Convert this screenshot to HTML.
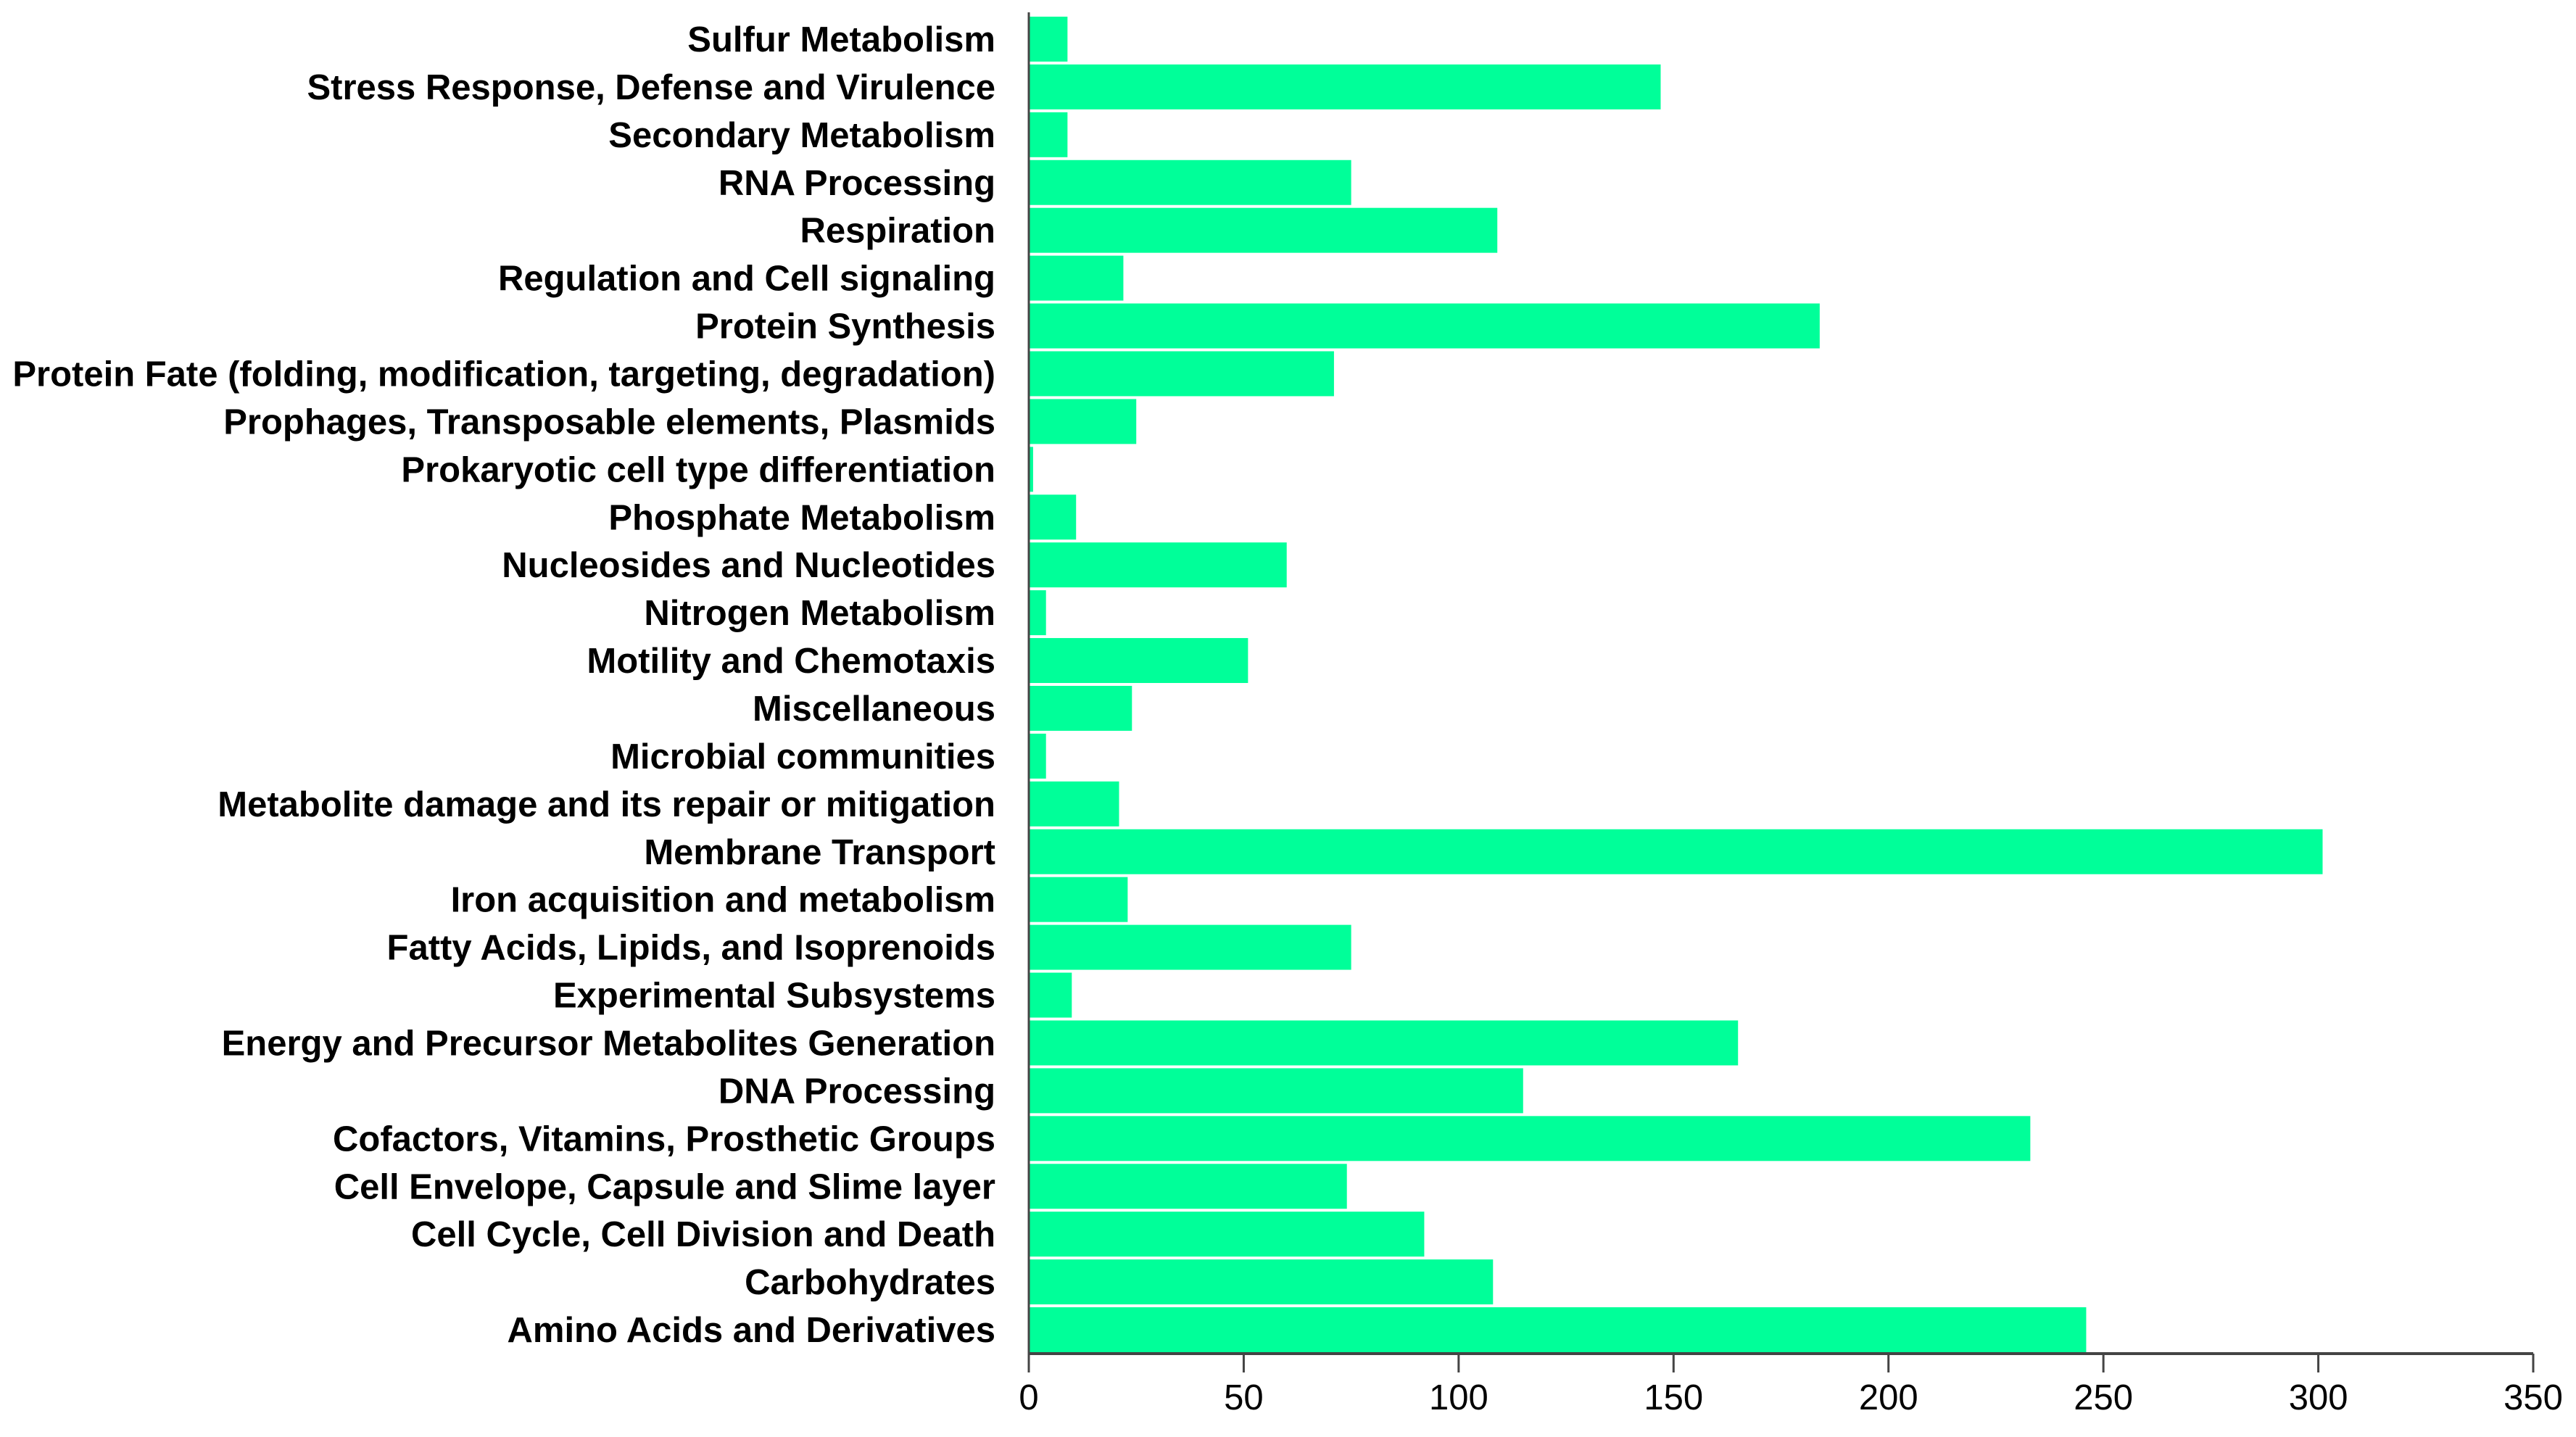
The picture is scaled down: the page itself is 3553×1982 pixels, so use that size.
<!DOCTYPE html>
<html><head><meta charset="utf-8"><style>
html,body{margin:0;padding:0;background:#fff;}
svg{display:block;font-family:"Liberation Sans",Arial,sans-serif;}
</style></head><body>
<svg id="chart" width="3553" height="1982" viewBox="0 0 3553 1982" xmlns="http://www.w3.org/2000/svg"></svg>
<script>
const categories = ["Sulfur Metabolism","Stress Response, Defense and Virulence","Secondary Metabolism","RNA Processing","Respiration","Regulation and Cell signaling","Protein Synthesis","Protein Fate (folding, modification, targeting, degradation)","Prophages, Transposable elements, Plasmids","Prokaryotic cell type differentiation","Phosphate Metabolism","Nucleosides and Nucleotides","Nitrogen Metabolism","Motility and Chemotaxis","Miscellaneous","Microbial communities","Metabolite damage and its repair or mitigation","Membrane Transport","Iron acquisition and metabolism","Fatty Acids, Lipids, and Isoprenoids","Experimental Subsystems","Energy and Precursor Metabolites Generation","DNA Processing","Cofactors, Vitamins, Prosthetic Groups","Cell Envelope, Capsule and Slime layer","Cell Cycle, Cell Division and Death","Carbohydrates","Amino Acids and Derivatives"];
const values = [9,147,9,75,109,22,184,71,25,1,11,60,4,51,24,4,21,301,23,75,10,165,115,233,74,92,108,246];
const tickValues = [0,50,100,150,200,250,300,350];
const tickLabels = ["0","50","100","150","200","250","300","350"];

const NS="http://www.w3.org/2000/svg";
const svg=document.getElementById('chart');
const x0=1419, x1=3494, xMax=350;
const yTop=21, yBot=1867;
const band=(yBot-yTop)/categories.length;
const xs=v=>x0+(v/xMax)*(x1-x0);
const yb=i=>yTop+i*band;
function mk(tag,attrs){const e=document.createElementNS(NS,tag);for(const k in attrs)e.setAttribute(k,attrs[k]);svg.appendChild(e);return e;}

categories.forEach((c,i)=>{
  const r=mk('rect',{x:x0,y:yb(i)+band*0.03,width:xs(values[i])-x0,height:band*0.94,fill:'#00ff99'});
  
  
  const t=mk('text',{x:1373,y:yb(i)+band/2+17,'text-anchor':'end','font-size':49,'font-weight':'bold',fill:'#000'});
  t.textContent=c;
  
  
});
const ya=mk('line',{x1:x0,y1:yTop-4,x2:x0,y2:yBot,stroke:'#444','stroke-width':3});


const xa=mk('line',{x1:x0,y1:yBot,x2:x1,y2:yBot,stroke:'#444','stroke-width':4});


tickValues.forEach((v,i)=>{
  const l=mk('line',{x1:xs(v),y1:yBot,x2:xs(v),y2:yBot+26,stroke:'#444','stroke-width':3});
  
  
  const t=mk('text',{x:xs(v),y:1944,'text-anchor':'middle','font-size':49,fill:'#000'});
  t.textContent=tickLabels[i];
  
  
});
</script>
</body></html>
